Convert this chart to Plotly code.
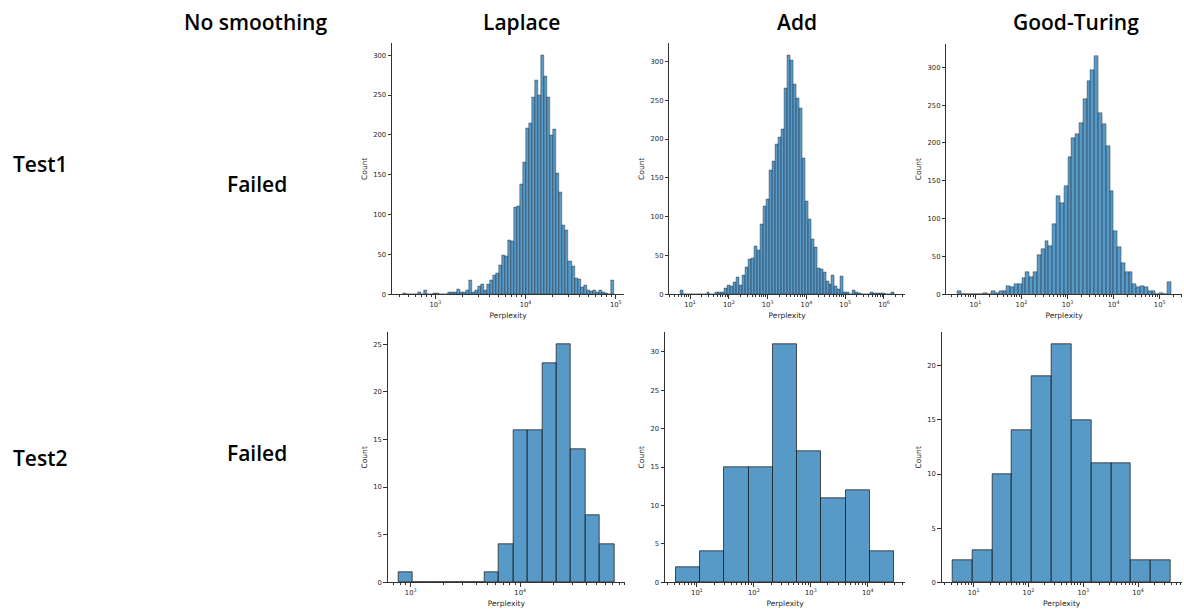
import plotly.graph_objects as go
import math

W, H = 1184, 611

# ---------------- data ----------------
col_titles = ["No smoothing", "Laplace", "Add", "Good-Turing"]
row_titles = ["Test1", "Test2"]
failed_text = "Failed"

# histogram counts (bins equally spaced in log10(perplexity)) and log10 data extent
lap1_counts = [1, 0, 0, 0, 0, 3, 0, 5, 0, 0, 1, 1, 0, 0, 0, 2, 2, 3, 6, 3, 3, 5, 17,
               2, 5, 10, 13, 5, 13, 18, 24, 26, 37, 49, 48, 68, 66, 109, 110, 138, 166,
               208, 215, 247, 268, 250, 300, 273, 247, 200, 207, 152, 128, 87, 80, 41,
               35, 20, 19, 9, 11, 5, 4, 5, 3, 5, 2, 1, 0, 17]
lap1_log_range = (2.636, 4.978)

add1_counts = [5, 0, 0, 0, 0, 0, 0, 0, 0, 2, 0, 0, 2, 3, 3, 8, 11, 10, 16, 22, 12, 25,
               35, 45, 46, 62, 57, 90, 113, 123, 160, 171, 193, 202, 212, 265, 308, 302,
               271, 253, 240, 175, 120, 97, 71, 60, 33, 32, 28, 17, 13, 25, 10, 6, 23,
               2, 2, 0, 5, 3, 1, 0, 0, 0, 2, 1, 1, 1, 1, 0, 0, 3]
add1_log_range = (0.741, 6.266)

gt1_counts = [5, 0, 1, 0, 1, 1, 0, 2, 1, 5, 2, 4, 5, 11, 10, 14, 14, 22, 30, 23, 30, 52,
              60, 70, 64, 93, 130, 120, 143, 182, 207, 212, 226, 258, 282, 296, 315, 240,
              225, 196, 136, 84, 62, 41, 29, 29, 13, 9, 11, 9, 5, 4, 1, 2, 1, 16]
gt1_log_range = (0.602, 5.245)

lap2_counts = [1, 0, 0, 0, 0, 0, 1, 4, 16, 16, 23, 25, 14, 7, 4]
lap2_log_range = (2.889, 4.858)

add2_counts = [2, 4, 15, 15, 31, 17, 11, 12, 4]
add2_log_range = (0.631, 4.462)

gt2_counts = [2, 3, 10, 14, 19, 22, 15, 11, 11, 2, 2]
gt2_log_range = (0.617, 4.597)

# major tick exponents and y tick steps
lap1_xticks = [3, 4, 5]
add1_xticks = [1, 2, 3, 4, 5, 6]
gt1_xticks = [1, 2, 3, 4, 5]
lap2_xticks = [3, 4]
add2_xticks = [1, 2, 3, 4]
gt2_xticks = [1, 2, 3, 4]
y_steps = [50, 50, 50, 5, 5, 5]

x_title = "Perplexity"
y_title = "Count"

# ---------------- layout geometry (pixels) ----------------
panel_px = [
    (392.0, 624.3, 43.3, 294.3),
    (669.3, 905.0, 43.3, 294.3),
    (946.3, 1181.7, 44.0, 294.3),
    (387.7, 625.0, 332.3, 582.3),
    (665.0, 905.0, 332.3, 582.3),
    (941.7, 1181.7, 332.3, 582.3),
]

panels = [
    (lap1_counts, lap1_log_range, lap1_xticks, 0.5),
    (add1_counts, add1_log_range, add1_xticks, 0.5),
    (gt1_counts, gt1_log_range, gt1_xticks, 0.5),
    (lap2_counts, lap2_log_range, lap2_xticks, 1.0),
    (add2_counts, add2_log_range, add2_xticks, 1.0),
    (gt2_counts, gt2_log_range, gt2_xticks, 1.0),
]

fig = go.Figure()
tick_font = dict(family="DejaVu Sans", size=6.8, color="#262626")
title_font = dict(family="DejaVu Sans", size=7.5, color="#262626")
axis_color = "#333333"

layout_axes = {}
for k, ((counts, (lo, hi), xt, lw), (px0, px1, py0, py1), ystep) in enumerate(
        zip(panels, panel_px, y_steps)):
    n = len(counts)
    w = (hi - lo) / n
    centers = [lo + w * (i + 0.5) for i in range(n)]
    idx = "" if k == 0 else str(k + 1)
    fig.add_trace(go.Bar(
        x=centers, y=counts, width=[w] * n,
        marker=dict(color="rgba(31,119,180,0.75)",
                    line=dict(color="rgba(30,30,30,0.75)", width=lw)),
        xaxis="x" + idx, yaxis="y" + idx, showlegend=False,
    ))
    m = 0.05 * (hi - lo)
    xr = [lo - m, hi + m]
    ymax = max(counts) * 1.05
    minor_vals = []
    for e in range(int(math.floor(xr[0])) - 1, int(math.ceil(xr[1])) + 1):
        for j in range(2, 10):
            v = e + math.log10(j)
            if xr[0] <= v <= xr[1]:
                minor_vals.append(v)
    layout_axes["xaxis" + idx] = dict(
        domain=[px0 / W, px1 / W], anchor="y" + idx, range=xr,
        tickmode="array", tickvals=xt,
        ticktext=["10<sup>%d</sup>" % e for e in xt],
        ticks="outside", ticklen=3.5, tickwidth=0.8, tickcolor=axis_color,
        showline=True, linecolor=axis_color, linewidth=0.9,
        showgrid=False, zeroline=False, tickfont=tick_font, automargin=False,
        minor=dict(tickmode="array", tickvals=minor_vals, ticks="outside",
                   ticklen=2, tickwidth=0.6, tickcolor=axis_color, showgrid=False),
        title=dict(text=x_title, font=title_font, standoff=4),
    )
    layout_axes["yaxis" + idx] = dict(
        domain=[1 - py1 / H, 1 - py0 / H], anchor="x" + idx, range=[0, ymax],
        tickmode="linear", tick0=0, dtick=ystep,
        ticks="outside", ticklen=3.5, tickwidth=0.8, tickcolor=axis_color,
        showline=True, linecolor=axis_color, linewidth=0.9,
        showgrid=False, zeroline=False, tickfont=tick_font, automargin=False,
        title=dict(text=y_title, font=title_font, standoff=4),
    )

big_font = dict(family="Open Sans", size=21, color="#000000", weight=600)
annotations = []
col_x = [255, 521.5, 797, 1076]
for t, cx in zip(col_titles, col_x):
    annotations.append(dict(text=t, x=cx / W, y=1 - 22 / H, xref="paper", yref="paper",
                            xanchor="center", yanchor="middle", showarrow=False, font=big_font))
row_y = [164, 458]
for t, ry in zip(row_titles, row_y):
    annotations.append(dict(text=t, x=11 / W, y=1 - ry / H, xref="paper", yref="paper",
                            xanchor="left", yanchor="middle", showarrow=False, font=big_font))
for ry in [184, 453]:
    annotations.append(dict(text=failed_text, x=225 / W, y=1 - ry / H, xref="paper", yref="paper",
                            xanchor="left", yanchor="middle", showarrow=False, font=big_font))

fig.update_layout(
    width=W, height=H, margin=dict(l=0, r=0, t=0, b=0, autoexpand=False),
    paper_bgcolor="white", plot_bgcolor="white",
    bargap=0, annotations=annotations, **layout_axes,
)

fig.write_html(
    "out.html",
    config={"displayModeBar": False},
    post_script="document.body.style.margin='0px';document.body.style.padding='0px';"
                "document.body.style.overflow='hidden';",
)
